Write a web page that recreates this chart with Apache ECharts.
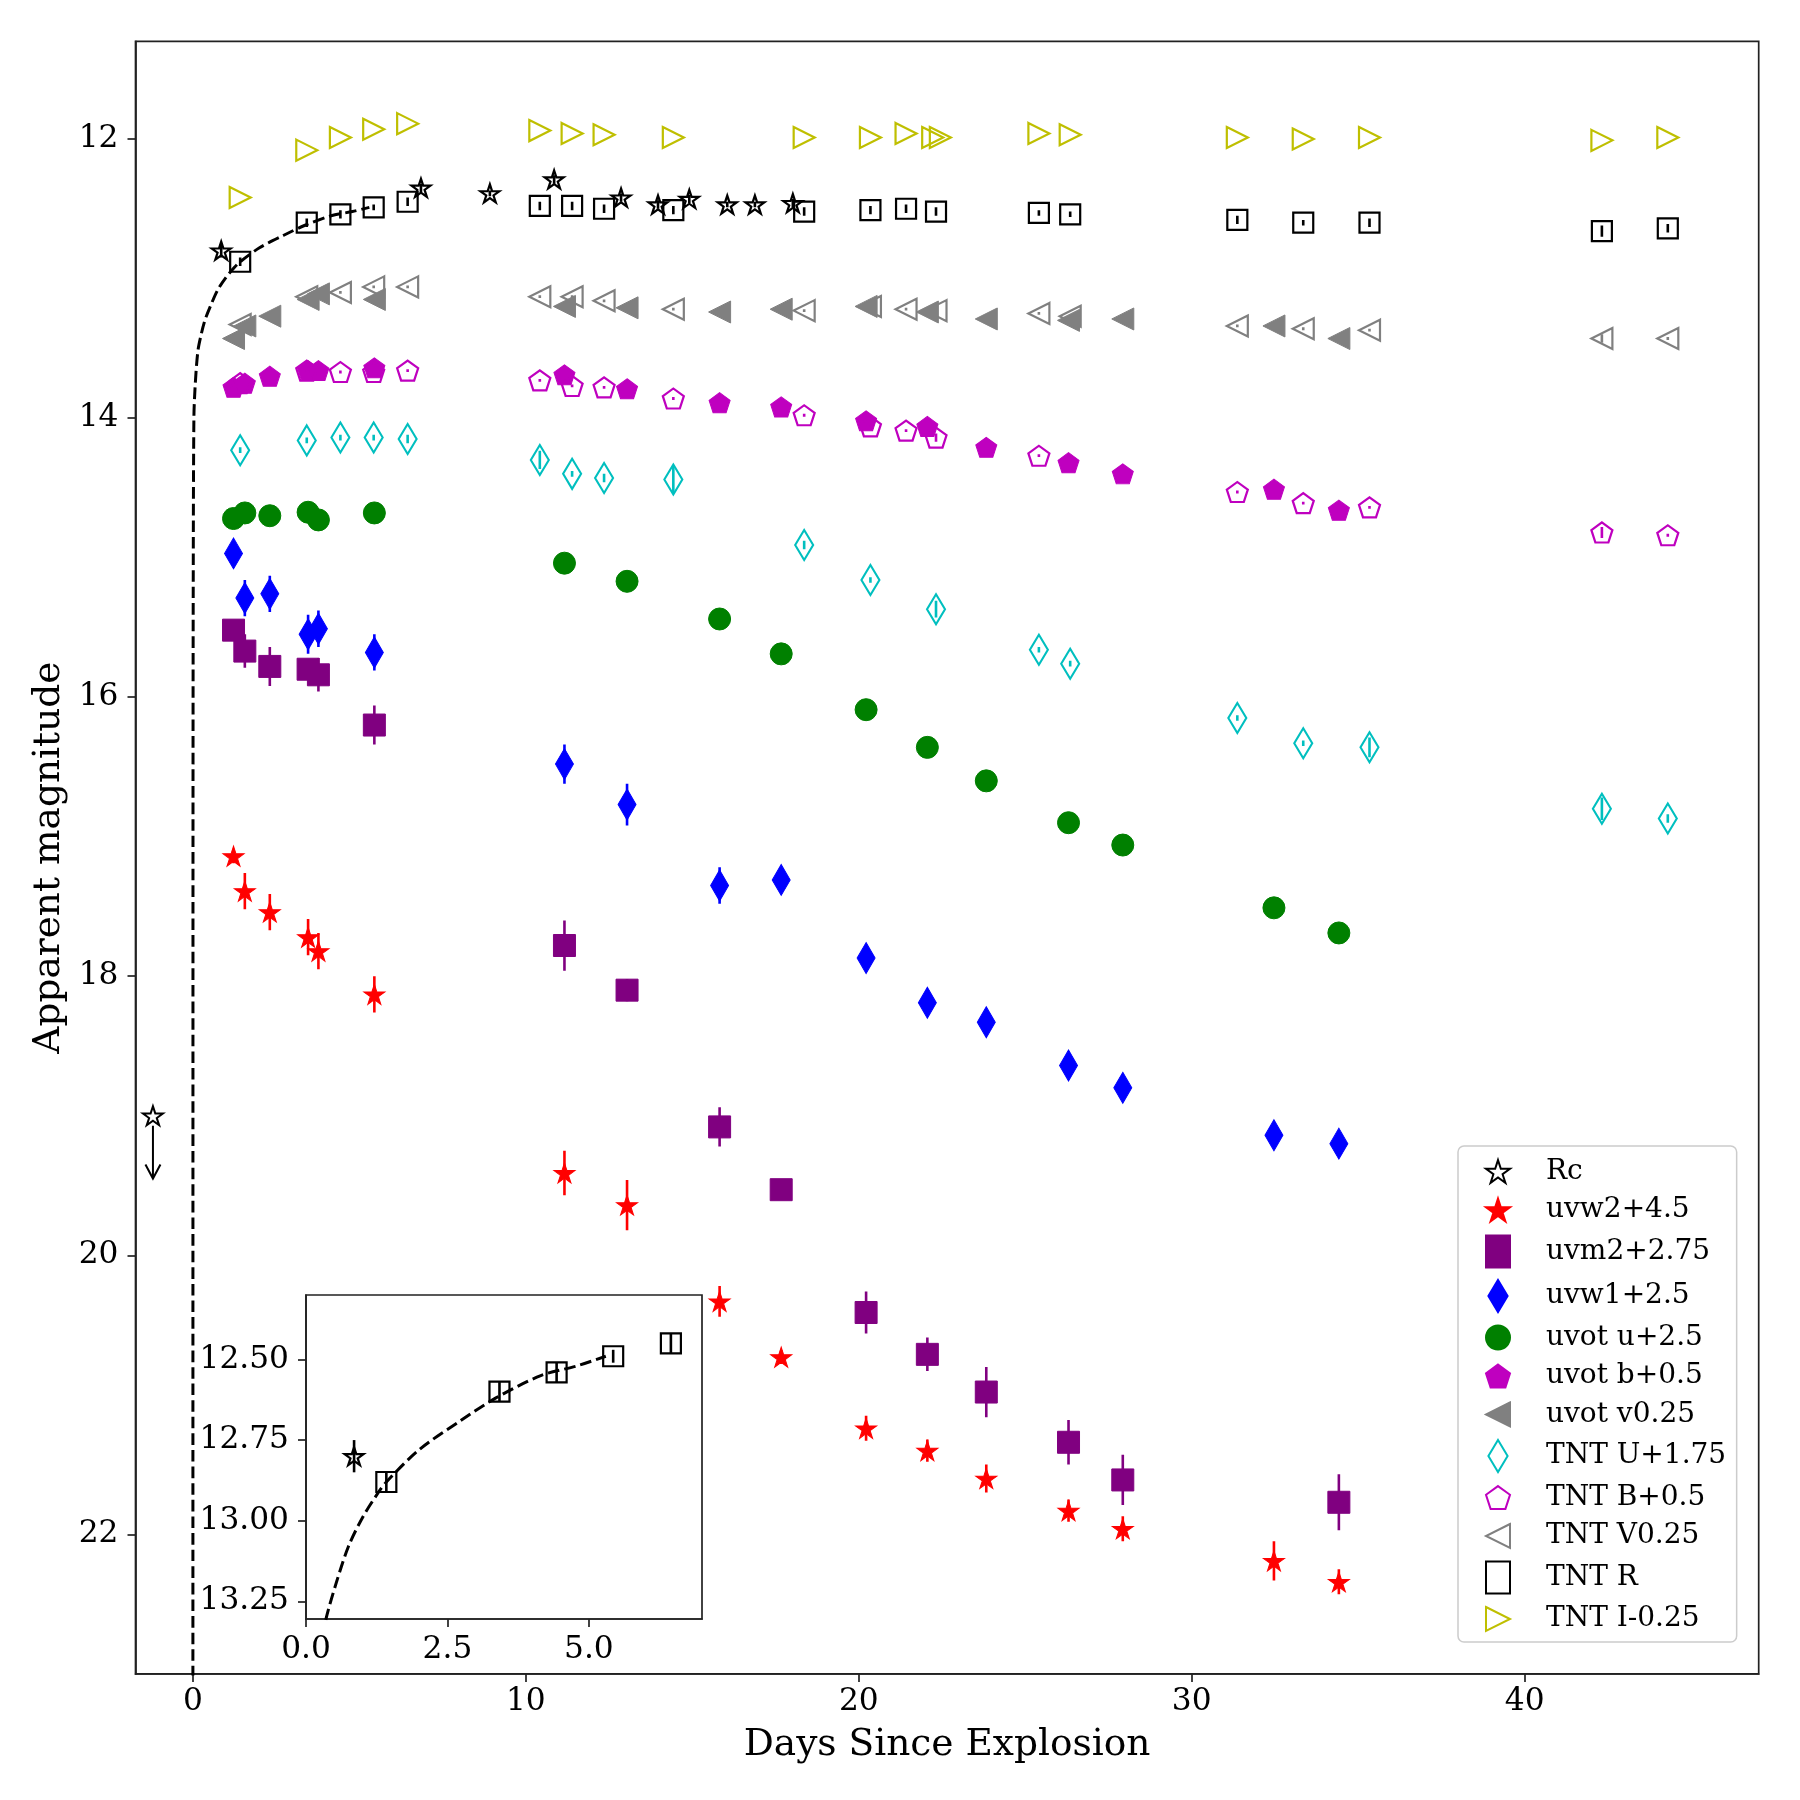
<!DOCTYPE html>
<html>
<head>
<meta charset="utf-8">
<title>Light curves</title>
<script src="https://cdn.jsdelivr.net/npm/echarts@6/dist/echarts.min.js"></script>
<style>
  html, body { margin: 0; padding: 0; background: #fff; }
  #chart { width: 1800px; height: 1800px; }
</style>
</head>
<body>
<div id="chart"></div>
<script>
// ---- data (days since explosion, apparent magnitude) ----
const rcDays = [0.85, 6.85, 8.92, 10.85, 12.86, 13.97, 14.91, 16.05, 16.88, 18.02];
const rcMags = [12.80, 12.35, 12.39, 12.29, 12.42, 12.47, 12.43, 12.47, 12.47, 12.46];
const rcErr = [0.05, 0.03, 0.02, 0.03, 0.03, 0.03, 0.03, 0.02, 0.02, 0.03];

// Swift/UVOT epochs
const uvotDays = [1.22, 1.56, 2.31, 3.46, 3.77, 5.45, 11.16, 13.04, 15.82, 17.67, 20.22, 22.06, 23.83, 26.30, 27.93, 32.47, 34.42];
const uvw2Mags = [17.14, 17.39, 17.54, 17.72, 17.82, 18.13, 19.41, 19.64, 20.33, 20.73, 21.24, 21.40, 21.60, 21.83, 21.96, 22.19, 22.34];
const uvw2Err = [0.05, 0.13, 0.13, 0.13, 0.13, 0.13, 0.16, 0.18, 0.11, 0.05, 0.09, 0.08, 0.10, 0.08, 0.09, 0.14, 0.09];
const uvm2Days = [1.22, 1.56, 2.31, 3.46, 3.77, 5.45, 11.16, 13.04, 15.82, 17.67, 20.22, 22.06, 23.83, 26.30, 27.93, 34.42];
const uvm2Mags = [15.52, 15.67, 15.78, 15.80, 15.84, 16.20, 17.78, 18.10, 19.08, 19.53, 20.41, 20.71, 20.98, 21.34, 21.61, 21.77];
const uvm2Err = [0.03, 0.12, 0.14, 0.06, 0.12, 0.14, 0.18, 0.08, 0.14, 0.04, 0.15, 0.12, 0.18, 0.16, 0.18, 0.20];
const uvw1Mags = [14.97, 15.29, 15.26, 15.55, 15.51, 15.68, 16.48, 16.77, 17.35, 17.31, 17.87, 18.19, 18.33, 18.64, 18.80, 19.14, 19.20];
const uvw1Err = [0.04, 0.13, 0.13, 0.14, 0.13, 0.13, 0.14, 0.15, 0.13, 0.08, 0.06, 0.06, 0.06, 0.06, 0.06, 0.06, 0.06];
const uvotUMags = [14.72, 14.68, 14.70, 14.675, 14.73, 14.68, 15.04, 15.17, 15.44, 15.69, 16.09, 16.36, 16.60, 16.90, 17.06, 17.51, 17.69];
const uvotBMags = [13.78, 13.75, 13.70, 13.66, 13.66, 13.64, 13.69, 13.79, 13.89, 13.92, 14.02, 14.06, 14.21, 14.32, 14.40, 14.51, 14.66];
const uvotVMags = [13.43, 13.34, 13.27, 13.15, 13.11, 13.15, 13.20, 13.21, 13.24, 13.22, 13.20, 13.24, 13.29, 13.30, 13.29, 13.34, 13.43];

// TNT epochs
const tntDays = [1.42, 3.42, 4.43, 5.43, 6.45, 10.42, 11.39, 12.35, 14.43, 18.36, 20.35, 21.42, 22.32, 25.41, 26.35, 31.37, 33.35, 35.34, 42.32, 44.30];
const tntUDays = [1.42, 3.42, 4.43, 5.43, 6.45, 10.42, 11.39, 12.35, 14.43, 18.36, 20.35, 22.32, 25.41, 26.35, 31.37, 33.35, 35.34, 42.32, 44.30];
const tntUMags = [14.23, 14.16, 14.14, 14.14, 14.15, 14.30, 14.40, 14.43, 14.44, 14.91, 15.16, 15.37, 15.66, 15.76, 16.15, 16.33, 16.36, 16.80, 16.87];
const tntUErr = [0.02, 0.02, 0.02, 0.02, 0.03, 0.065, 0.02, 0.03, 0.1, 0.03, 0.02, 0.06, 0.02, 0.02, 0.02, 0.02, 0.07, 0.08, 0.03];
const tntBDays = [1.42, 3.42, 4.43, 5.43, 6.45, 10.42, 11.39, 12.35, 14.43, 18.36, 20.35, 21.42, 22.32, 25.41, 31.37, 33.35, 35.34, 42.32, 44.30];
const tntBMags = [13.75, 13.66, 13.67, 13.67, 13.66, 13.73, 13.77, 13.78, 13.86, 13.98, 14.06, 14.09, 14.14, 14.27, 14.53, 14.61, 14.64, 14.82, 14.84];
const tntBErr = [0.01, 0.01, 0.01, 0.01, 0.01, 0.01, 0.01, 0.01, 0.01, 0.01, 0.01, 0.01, 0.03, 0.01, 0.01, 0.01, 0.01, 0.04, 0.01];
const tntVMags = [13.33, 13.13, 13.10, 13.06, 13.06, 13.13, 13.13, 13.16, 13.22, 13.23, 13.20, 13.22, 13.23, 13.25, 13.27, 13.34, 13.36, 13.37, 13.43, 13.43];
const tntVErr = [0.01, 0.01, 0.01, 0.01, 0.01, 0.01, 0.01, 0.01, 0.01, 0.01, 0.01, 0.01, 0.01, 0.01, 0.01, 0.01, 0.01, 0.01, 0.03, 0.01];
const tntRMags = [12.88, 12.60, 12.54, 12.49, 12.45, 12.48, 12.48, 12.50, 12.51, 12.52, 12.51, 12.50, 12.52, 12.53, 12.54, 12.58, 12.60, 12.60, 12.66, 12.64];
const tntRErr = [0.03, 0.03, 0.03, 0.02, 0.03, 0.03, 0.03, 0.03, 0.03, 0.03, 0.03, 0.03, 0.03, 0.02, 0.02, 0.03, 0.02, 0.03, 0.04, 0.03];
const tntIDays = [1.42, 3.42, 4.43, 5.43, 6.45, 10.42, 11.39, 12.35, 14.43, 18.36, 20.35, 21.42, 22.22, 22.45, 25.41, 26.35, 31.37, 33.35, 35.34, 42.32, 44.30];
const tntIMags = [12.42, 12.08, 11.99, 11.93, 11.89, 11.94, 11.96, 11.97, 11.99, 11.99, 11.99, 11.96, 11.99, 11.99, 11.96, 11.97, 11.99, 12.00, 11.99, 12.01, 11.99];

// pre-explosion upper limit
const limitDays = [-1.2];
const limitMags = [19.0];
const limitArrowTo = [19.45];

// dashed rise curve
const curveDays = [0.0, 0.003, 0.01, 0.03, 0.07, 0.15, 0.25, 0.36, 0.54, 0.75, 1.0, 1.25, 1.42, 2.0, 2.73, 3.35, 4.15, 4.79, 5.3];
const curveMags = [23.5, 17.0, 15.2, 14.0, 13.76, 13.52, 13.40, 13.30, 13.19, 13.08, 12.99, 12.92, 12.88, 12.78, 12.69, 12.62, 12.55, 12.52, 12.49];

// tick labels
const mainXTicks = [0, 10, 20, 30, 40];
const mainYTicks = [12, 14, 16, 18, 20, 22];
const insetXTicks = [0, 2.5, 5.0];
const insetYTicks = [12.5, 12.75, 13.0, 13.25];

// ---- marker shapes ----
const STAR = 'path://M50,0L61.23,34.55L97.55,34.55L68.17,55.9L79.39,90.45L50,69.1L20.61,90.45L31.83,55.9L2.45,34.55L38.77,34.55Z';
const PENTA = 'path://M50,0L97.55,34.55L79.39,90.45L20.61,90.45L2.45,34.55Z';
const TRI_R = 'path://M0,0L100,50L0,100Z';
const TRI_L = 'path://M100,0L0,50L100,100Z';
const THIN_D = 'path://M30,0L60,50L30,100L0,50Z';

const FONT = 'DejaVu Serif';
const AXIS = '#222';
const CLEAR = 'rgba(0,0,0,0)';

const chart = echarts.init(document.getElementById('chart'), null, { renderer: 'canvas' });

const pairs = (xs, ys) => xs.map((x, i) => [x, ys[i]]);

// vertical error bars, drawn through the axis scales
function errBars(days, mags, errs, color, ax, z) {
  return {
    type: 'custom',
    xAxisIndex: ax,
    yAxisIndex: ax,
    z: z,
    clip: true,
    silent: true,
    data: days.map((d, i) => [d, mags[i], errs[i]]),
    encode: { x: 0, y: 1 },
    renderItem: function (params, api) {
      const a = api.coord([api.value(0), api.value(1) - api.value(2)]);
      const b = api.coord([api.value(0), api.value(1) + api.value(2)]);
      const cs = params.coordSys;
      if (a[0] < cs.x || a[0] > cs.x + cs.width) return null;
      return {
        type: 'line',
        shape: { x1: a[0], y1: a[1], x2: b[0], y2: b[1] },
        style: { stroke: color, lineWidth: 2.6 }
      };
    }
  };
}

function pts(name, days, mags, symbol, size, color, open, ax, z) {
  return {
    name: name,
    type: 'scatter',
    xAxisIndex: ax,
    yAxisIndex: ax,
    z: z,
    symbol: symbol,
    symbolSize: size,
    data: pairs(days, mags),
    itemStyle: open
      ? { color: CLEAR, borderColor: color, borderWidth: 2.2, opacity: 1 }
      : { color: color, borderColor: color, borderWidth: 1, opacity: 1 },
    emphasis: { disabled: true }
  };
}

// one entry per band: [name, days, mags, errs, symbol, size, color, open]
const bands = [
  ['Rc', rcDays, rcMags, rcErr, STAR, [19, 18], '#000000', true],
  ['uvw2+4.5', uvotDays, uvw2Mags, uvw2Err, STAR, [21, 20], '#ff0000', false],
  ['uvm2+2.75', uvm2Days, uvm2Mags, uvm2Err, 'rect', 22, '#800080', false],
  ['uvw1+2.5', uvotDays, uvw1Mags, uvw1Err, THIN_D, [18, 31], '#0000ff', false],
  ['uvot u+2.5', uvotDays, uvotUMags, null, 'circle', 22, '#008000', false],
  ['uvot b+0.5', uvotDays, uvotBMags, null, PENTA, [21, 20], '#bf00bf', false],
  ['uvot v0.25', uvotDays, uvotVMags, null, TRI_L, [22, 22], '#808080', false],
  ['TNT U+1.75', tntUDays, tntUMags, tntUErr, THIN_D, [18, 30], '#00bfbf', true],
  ['TNT B+0.5', tntBDays, tntBMags, tntBErr, PENTA, [21, 20], '#bf00bf', true],
  ['TNT V0.25', tntDays, tntVMags, tntVErr, TRI_L, [21, 21], '#808080', true],
  ['TNT R', tntDays, tntRMags, tntRErr, 'rect', 20, '#000000', true],
  ['TNT I-0.25', tntIDays, tntIMags, null, TRI_R, [21, 21], '#bfbf00', true]
];

const series = [];
bands.forEach((b, i) => {
  if (b[3]) series.push(errBars(b[1], b[2], b[3], b[6], 0, 2 + 2 * i));
  series.push(pts(b[0], b[1], b[2], b[4], b[5], b[6], b[7], 0, 3 + 2 * i));
});

// dashed rise curve on the main axes
series.push({
  type: 'line', xAxisIndex: 0, yAxisIndex: 0, z: 30, silent: true,
  data: pairs(curveDays, curveMags), symbol: 'none', smooth: 0.3,
  lineStyle: { color: '#000', width: 3, type: [11.6, 5] }
});

// upper limit: open star with a downward arrow
series.push({
  type: 'scatter', xAxisIndex: 0, yAxisIndex: 0, z: 30, silent: true,
  symbol: STAR, symbolSize: [20, 19], data: pairs(limitDays, limitMags),
  itemStyle: { color: CLEAR, borderColor: '#000', borderWidth: 2, opacity: 1 }
});
series.push({
  type: 'custom', xAxisIndex: 0, yAxisIndex: 0, z: 30, silent: true,
  data: limitDays.map((d, i) => [d, limitMags[i], limitArrowTo[i]]),
  encode: { x: 0, y: 1 },
  renderItem: function (params, api) {
    const p0 = api.coord([api.value(0), api.value(1)]);
    const p1 = api.coord([api.value(0), api.value(2)]);
    const st = { stroke: '#000', lineWidth: 2, fill: null };
    return {
      type: 'group',
      children: [
        { type: 'line', shape: { x1: p0[0], y1: p0[1] + 10, x2: p1[0], y2: p1[1] }, style: st },
        { type: 'polyline', shape: { points: [[p1[0] - 7.5, p1[1] - 14], [p1[0], p1[1]], [p1[0] + 7.5, p1[1] - 14]] }, style: st }
      ]
    };
  }
});

// inset: early TNT R, first Rc point and the curve
series.push(errBars(rcDays.slice(0, 1), rcMags.slice(0, 1), rcErr.slice(0, 1), '#000', 1, 42));
series.push(pts('inset Rc', rcDays.slice(0, 1), rcMags.slice(0, 1), STAR, [19, 18], '#000', true, 1, 43));
series.push(errBars(tntDays, tntRMags, tntRErr, '#000', 1, 42));
series.push(pts('inset R', tntDays, tntRMags, 'rect', 20, '#000', true, 1, 43));
series.push({
  type: 'line', xAxisIndex: 1, yAxisIndex: 1, z: 44, silent: true,
  data: pairs(curveDays, curveMags), symbol: 'none', smooth: 0.3,
  lineStyle: { color: '#000', width: 3, type: [11.6, 5] }
});

const tickStyle = { show: true, inside: false, length: 8, lineStyle: { color: AXIS, width: 1.7 } };
const lineStyle = { show: true, onZero: false, lineStyle: { color: AXIS, width: 1.7 } };
const labelFont = { fontFamily: FONT, fontSize: 31.25, color: '#000' };

chart.setOption({
  animation: false,
  backgroundColor: '#fff',
  grid: [
    { left: 135.5, top: 41.3, width: 1623.2, height: 1632.6, show: true, borderColor: AXIS, borderWidth: 1.7, backgroundColor: '#fff' },
    { left: 306, top: 1295, width: 396, height: 324, show: true, borderColor: AXIS, borderWidth: 1.7, backgroundColor: '#fff', z: 40 }
  ],
  xAxis: [
    {
      gridIndex: 0, type: 'value', min: -1.724, max: 47.03,
      axisLine: lineStyle,
      axisTick: Object.assign({ customValues: mainXTicks }, tickStyle),
      axisLabel: Object.assign({ customValues: mainXTicks, margin: 12 }, labelFont),
      splitLine: { show: false },
      name: 'Days Since Explosion', nameLocation: 'middle', nameGap: 52,
      nameTextStyle: { fontFamily: FONT, fontSize: 37.5, color: '#000' }
    },
    {
      gridIndex: 1, type: 'value', min: 0, max: 7, z: 41,
      axisLine: lineStyle,
      axisTick: Object.assign({ customValues: insetXTicks }, tickStyle),
      axisLabel: Object.assign({ customValues: insetXTicks, margin: 15, formatter: v => v.toFixed(1) }, labelFont),
      splitLine: { show: false }
    }
  ],
  yAxis: [
    {
      gridIndex: 0, type: 'value', min: 11.3, max: 23.0, inverse: true,
      axisLine: lineStyle,
      axisTick: Object.assign({ customValues: mainYTicks }, tickStyle),
      axisLabel: Object.assign({ customValues: mainYTicks, margin: 17 }, labelFont),
      splitLine: { show: false },
      name: 'Apparent magnitude', nameLocation: 'middle', nameGap: 63,
      nameTextStyle: { fontFamily: FONT, fontSize: 37.5, color: '#000' }
    },
    {
      gridIndex: 1, type: 'value', min: 12.3, max: 13.305, inverse: true, z: 41,
      axisLine: lineStyle,
      axisTick: Object.assign({ customValues: insetYTicks }, tickStyle),
      axisLabel: Object.assign({ customValues: insetYTicks, margin: 17, formatter: v => v.toFixed(2) }, labelFont),
      splitLine: { show: false }
    }
  ],
  legend: {
    data: bands.map(b => b[0]),
    orient: 'vertical',
    left: 1458,
    top: 1146,
    z: 100,
    selectedMode: false,
    symbolKeepAspect: true,
    itemWidth: 24,
    itemHeight: 32,
    itemGap: 10.5,
    padding: [11.5, 10.5, 9, 27],
    backgroundColor: 'rgba(255,255,255,0.8)',
    borderColor: '#cccccc',
    borderWidth: 1.5,
    borderRadius: 6,
    textStyle: { fontFamily: FONT, fontSize: 28, color: '#000', padding: [0, 0, 0, 31] }
  },
  series: series
});
</script>
</body>
</html>
